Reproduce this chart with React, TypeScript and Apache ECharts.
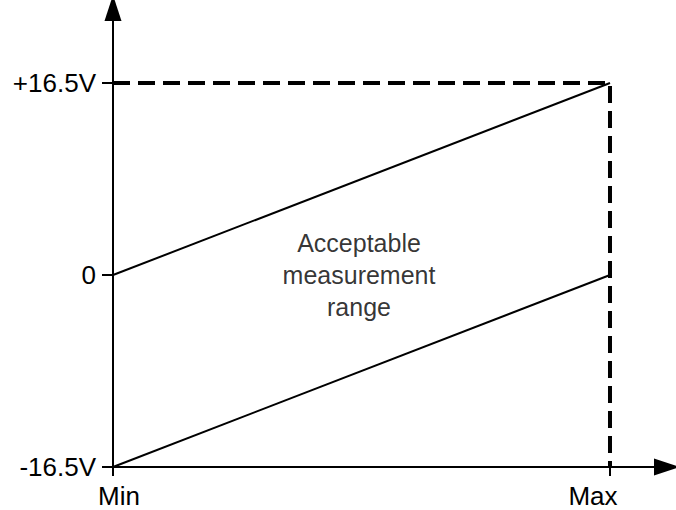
import React, { useEffect, useRef } from "react";
import * as echarts from "echarts";

const xTicks = [0, 1];
const xTickLabels = ["Min", "Max"];
const yTicks = [-16.5, 0, 16.5];
const yTickLabels = ["-16.5V", "0", "+16.5V"];
const upperLine = [[0, 0], [1, 16.5]];
const lowerLine = [[0, -16.5], [1, 0]];
const boundary = [[0, 16.5], [1, 16.5], [1, -16.5]];
const noteAt = [[0.495, 0]];
const noteText = "Acceptable\nmeasurement\nrange";

export default function App() {
  const ref = useRef<HTMLDivElement>(null);
  useEffect(() => {
    document.body.style.margin = "0";
    const chart = echarts.init(ref.current!, null, { renderer: "svg" });
    const font = "Liberation Sans";
    chart.setOption({
      animation: false,
      backgroundColor: "#fff",
      grid: { left: 113, right: 9, top: 8, bottom: 43 },
      xAxis: {
        type: "value",
        min: 0,
        max: 1.1147,
        splitLine: { show: false },
        axisLine: {
          show: true,
          onZero: false,
          lineStyle: { color: "#000", width: 2 },
          symbol: ["none", "triangle"],
          symbolSize: [17, 26],
        },
        axisTick: { show: true, length: 9, customValues: xTicks, lineStyle: { color: "#000", width: 2 } },
        axisLabel: {
          customValues: xTicks,
          formatter: (v: number) => {
            const i = xTicks.indexOf(v);
            return i < 0 ? "" : `{l${i}|${xTickLabels[i]}}`;
          },
          color: "#000",
          fontFamily: font,
          fontSize: 26,
          margin: 16,
          rich: {
            l0: { fontFamily: font, fontSize: 26, color: "#000", padding: [0, 0, 0, 12] },
            l1: { fontFamily: font, fontSize: 26, color: "#000", padding: [0, 34, 0, 0] },
          },
        },
      },
      yAxis: {
        type: "value",
        min: -16.5,
        max: 22.95,
        splitLine: { show: false },
        axisLine: {
          show: true,
          onZero: false,
          lineStyle: { color: "#000", width: 2 },
          symbol: ["none", "triangle"],
          symbolSize: [17, 26],
        },
        axisTick: { show: true, length: 11, customValues: yTicks, lineStyle: { color: "#000", width: 2 } },
        axisLabel: {
          customValues: yTicks,
          formatter: (v: number) => yTickLabels[yTicks.indexOf(v)] ?? "",
          color: "#000",
          fontFamily: font,
          fontSize: 26,
          margin: 17,
        },
      },
      series: [
        {
          type: "line",
          data: upperLine,
          symbol: "none",
          lineStyle: { color: "#000", width: 2 },
        },
        {
          type: "line",
          data: lowerLine,
          symbol: "none",
          lineStyle: { color: "#000", width: 2 },
        },
        {
          type: "line",
          data: boundary,
          symbol: "none",
          lineStyle: { color: "#000", width: 4, type: [17, 8] },
        },
        {
          type: "scatter",
          data: noteAt,
          symbolSize: 0,
          label: {
            show: true,
            position: "inside",
            formatter: noteText,
            color: "#000",
            textBorderWidth: 0,
            fontFamily: font,
            fontSize: 25,
            lineHeight: 32,
            align: "center",
          },
        },
      ],
    });
    return () => chart.dispose();
  }, []);
  return <div ref={ref} style={{ width: 676, height: 510 }} />;
}
